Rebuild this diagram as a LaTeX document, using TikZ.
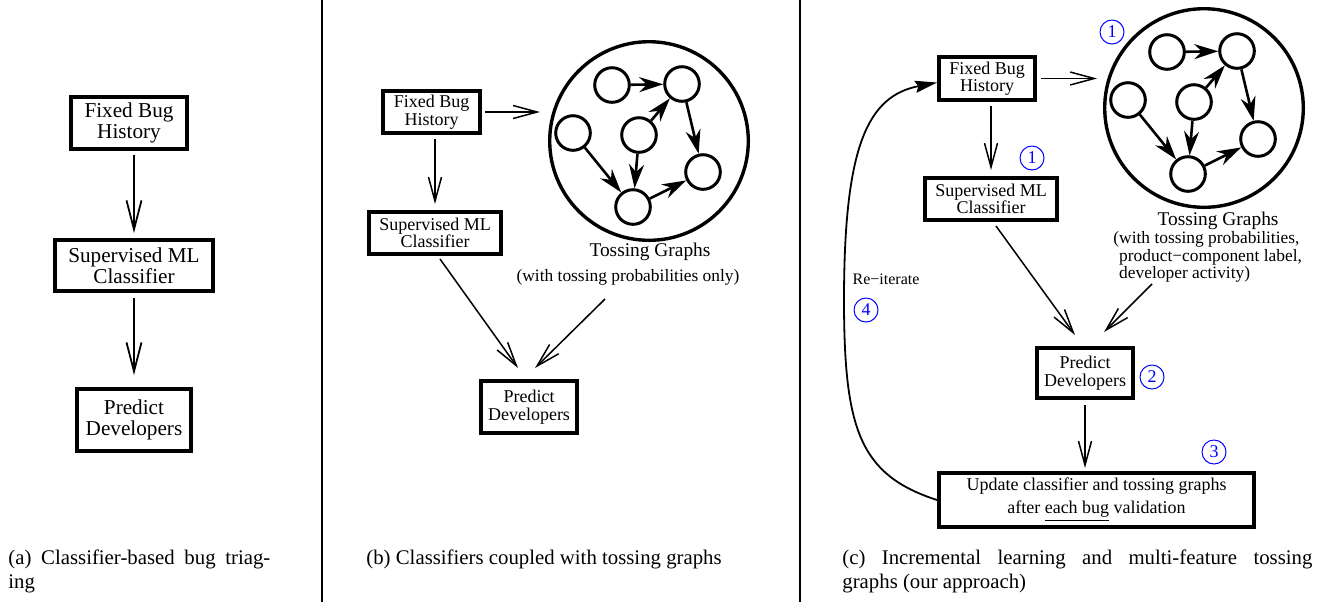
\documentclass[tikz,border=0pt]{standalone}
\usepackage{fontspec}
\setmainfont{Liberation Serif}
\usetikzlibrary{arrows.meta}

\newcommand\boxfontA{\fontsize{10.6pt}{10.5pt}\selectfont}
\newcommand\boxfontB{\fontsize{9pt}{8.7pt}\selectfont}
\newcommand\boxfontU{\fontsize{9pt}{11.5pt}\selectfont}
\newcommand\titlefont{\fontsize{9.7pt}{11pt}\selectfont}
\newcommand\notefont{\fontsize{8.7pt}{8.75pt}\selectfont}
\newcommand\reitfont{\fontsize{8pt}{9pt}\selectfont}
\newcommand\capfont{\fontsize{10.4pt}{12pt}\selectfont}
\newcommand\numfont{\fontsize{9pt}{9pt}\selectfont}

\tikzset{
	box/.style={draw, line width=1.8pt, align=center, inner sep=0pt},
	flow/.style={-{Straight Barb[length=12pt, width=6.5pt]}, line width=0.75pt},
	flowA/.style={-{Straight Barb[length=14.5pt, width=7.5pt]}, line width=0.9pt},
	ring/.style={circle, draw, line width=1.7pt, minimum size=99.3pt, inner sep=0pt},
	dev/.style={circle, draw, line width=1.5pt, minimum size=17.3pt, inner sep=0pt},
	toss/.style={-{Stealth[length=12pt, width=7.5pt]}, line width=1.3pt},
	stepno/.style={circle, draw=blue, text=blue, line width=0.5pt, minimum size=12pt, inner sep=0pt, font=\numfont},
	caption/.style={font=\capfont, inner sep=0pt, anchor=north west},
}

\begin{document}
\begin{tikzpicture}[x=0.5pt, y=-0.5pt]
	\useasboundingbox (0,0) rectangle (1320,602);

	% panel separators
	\draw[line width=0.6pt] (322,0) -- (322,602);
	\draw[line width=0.6pt] (800,0) -- (800,602);

	% (a) classifier only
	\node[box, font=\boxfontA, minimum width=58.2pt, minimum height=26.2pt] (fixA) at (129,123) {Fixed Bug\\History};
	\node[box, font=\boxfontA, minimum width=79.2pt, minimum height=25.7pt] (clsA) at (134,265.5) {Supervised ML\\Classifier};
	\node[box, font=\boxfontA, minimum width=57.2pt, minimum height=31.2pt] (predA) at (134,420) {Predict\\Developers};
	\draw[flowA, shorten <=2pt, shorten >=2.5pt] (fixA.south -| clsA.north) -- (clsA.north);
	\draw[flowA, shorten <=2.5pt, shorten >=6pt] (clsA) -- (predA);

	% tossing graphs of (b) and (c)
	\foreach \p/\dx/\dy in {B/0/0, C/555/-33} {
		\node[ring] (ring\p) at ({649+\dx},{141+\dy}) {};
		\node[dev] (dev\p1) at ({612+\dx},{85+\dy}) {};
		\node[dev] (dev\p2) at ({682+\dx},{84+\dy}) {};
		\node[dev] (dev\p3) at ({573+\dx},{133+\dy}) {};
		\node[dev] (dev\p4) at ({639+\dx},{135+\dy}) {};
		\node[dev] (dev\p5) at ({703+\dx},{172+\dy}) {};
		\node[dev] (dev\p6) at ({633+\dx},{207+\dy}) {};
		\foreach \s/\t in {1/2, 4/2, 2/5, 3/6, 4/6, 6/5}
			\draw[toss] (dev\p\s) -- (dev\p\t);
	}

	% (b) classifier + tossing graphs
	\node[box, font=\boxfontB, minimum width=48.7pt, minimum height=21.2pt] (fixB) at (431.5,112) {Fixed Bug\\History};
	\node[box, font=\boxfontB, minimum width=66.2pt, minimum height=21.2pt] (clsB) at (435,233) {Supervised ML\\Classifier};
	\node[box, font=\boxfontB, minimum width=48.2pt, minimum height=26.2pt] (predB) at (529,407) {Predict\\Developers};
	\node[font=\titlefont, inner sep=0pt] (tossB) at (650,252) {Tossing Graphs};
	\node[font=\notefont, inner sep=0pt] (tossBnote) at (628,277) {(with tossing probabilities only)};
	\coordinate (tB) at (605,299);
	\draw[flow, shorten <=1.5pt, shorten >=4pt] (fixB) -- (fixB -| ringB.west);
	\draw[flow, shorten <=2pt, shorten >=3pt] (fixB.south -| clsB.north) -- (clsB.north);
	\draw[flow] ([xshift=2.5pt,yshift=-1.5pt]clsB.south) -- ([xshift=-5.5pt,yshift=5.5pt]predB.north);
	\draw[flow] (tB) -- ([xshift=3pt,yshift=5.5pt]predB.north);

	% (c) incremental learning
	\node[box, font=\boxfontB, minimum width=48.2pt, minimum height=21.7pt] (fixC) at (987,78.5) {Fixed Bug\\History};
	\node[box, font=\boxfontB, minimum width=66.2pt, minimum height=21.2pt] (clsC) at (991,199) {Supervised ML\\Classifier};
	\node[box, font=\boxfontB, minimum width=48.2pt, minimum height=25.2pt] (predC) at (1085,373) {Predict\\Developers};
	\node[box, font=\boxfontU, minimum width=157.7pt, minimum height=27.2pt] (updC) at (1096.5,500) {Update classifier and tossing graphs\\after \underline{each bug} validation};
	\node[font=\titlefont, inner sep=0pt] (tossC) at (1218,221) {Tossing Graphs};
	\node[font=\notefont, inner sep=0pt, align=left, anchor=west] (tossCnote) at (1113,257) {(with tossing probabilities,\\\hphantom{(}product−component label,\\\hphantom{(}developer activity)};
	\coordinate (tC) at (1152,284);
	\draw[flow, shorten <=2pt, shorten >=3pt] (fixC) -- (fixC -| ringC.west);
	\draw[flow, shorten <=2pt, shorten >=3pt] (fixC.south -| clsC.north) -- (clsC.north);
	\draw[flow] ([xshift=2.5pt,yshift=-2pt]clsC.south) -- ([xshift=-5pt,yshift=5.5pt]predC.north);
	\draw[flow] (tC) -- ([xshift=9.5pt,yshift=7pt]predC.north);
	\draw[flow, shorten <=2.5pt, shorten >=1.5pt] (predC.south) -- (predC.south |- updC.north);
	\draw[line width=0.9pt, -{Stealth[length=11pt, width=6pt, inset=1.5pt]}] (updC.west) .. controls (860,475) and (844,430) .. (844,300) .. controls (844,145) and (868,96) .. ([yshift=-2pt]fixC.west);
	\node[font=\reitfont, inner sep=0pt] (reit) at (886,279) {Re−iterate};

	% step numbers
	\node[stepno] (st1a) at (1112,32) {1};
	\node[stepno] (st1b) at (1032,158) {1};
	\node[stepno] (st2) at (1152,377) {2};
	\node[stepno] (st3) at (1214,452) {3};
	\node[stepno] (st4) at (866,310) {4};

	% captions
	\node[caption, text width=131pt, align=justify] (capA) at (8,549) {(a) Classifier-based bug triag-\linebreak ing};
	\node[caption] (capB) at (366,549) {(b) Classifiers coupled with tossing graphs};
	\node[caption, text width=235pt, align=justify] (capC) at (842,549) {(c) Incremental learning and multi-feature tossing\linebreak graphs (our approach)};
\end{tikzpicture}
\end{document}
